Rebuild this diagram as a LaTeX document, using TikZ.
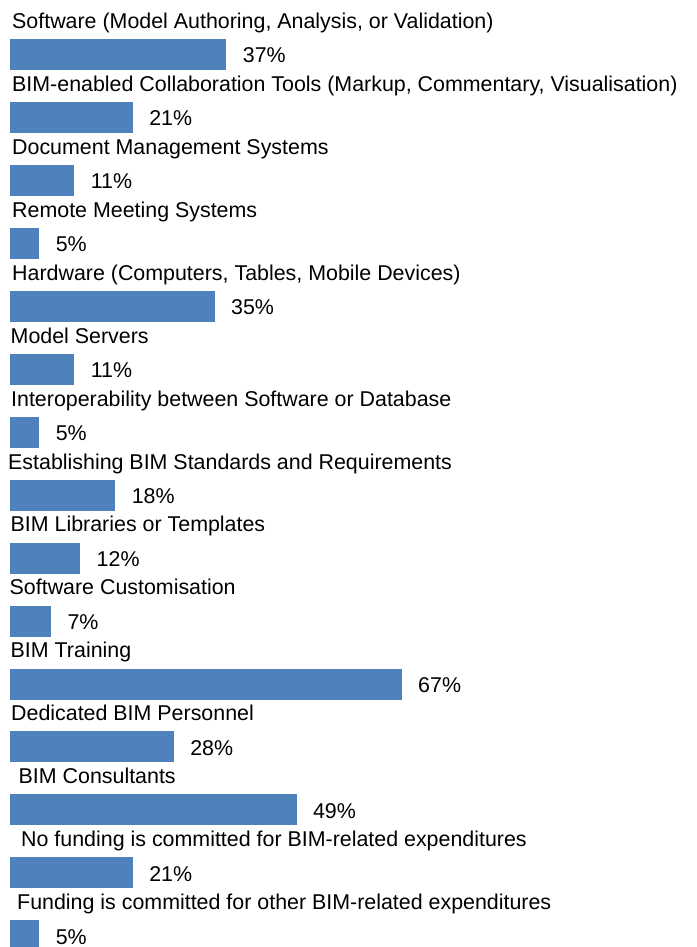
\documentclass[tikz,border=0pt]{standalone}
\usepackage{fontspec}
\setmainfont{Liberation Sans}
\usetikzlibrary{positioning}

\definecolor{barblue}{HTML}{4F81BD}

\newcommand\MYleft{10}
\newcommand\MYtop{39}
\newcommand\MYstep{62.93}
\newcommand\MYunit{5.845}

\begin{document}
\begin{tikzpicture}[x=1pt,y=-1pt,
  bar/.style={fill=barblue,inner sep=0pt,minimum height=31pt,anchor=north west},
  cat/.style={inner sep=0pt,anchor=base west,font=\fontsize{21.4}{25}\selectfont},
  pct/.style={inner sep=0pt,anchor=base west,font=\fontsize{21.4}{25}\selectfont}]

\useasboundingbox (0,0) rectangle (696,947);
\clip (0,0) rectangle (696,947);

\coordinate (R1) at (\MYleft,\MYtop);
\coordinate (R2) at (\MYleft,\MYtop+1*\MYstep);
\coordinate (R3) at (\MYleft,\MYtop+2*\MYstep);
\coordinate (R4) at (\MYleft,\MYtop+3*\MYstep);
\coordinate (R5) at (\MYleft,\MYtop+4*\MYstep);
\coordinate (R6) at (\MYleft,\MYtop+5*\MYstep);
\coordinate (R7) at (\MYleft,\MYtop+6*\MYstep);
\coordinate (R8) at (\MYleft,\MYtop+7*\MYstep);
\coordinate (R9) at (\MYleft,\MYtop+8*\MYstep);
\coordinate (R10) at (\MYleft,\MYtop+9*\MYstep);
\coordinate (R11) at (\MYleft,\MYtop+10*\MYstep);
\coordinate (R12) at (\MYleft,\MYtop+11*\MYstep);
\coordinate (R13) at (\MYleft,\MYtop+12*\MYstep);
\coordinate (R14) at (\MYleft,\MYtop+13*\MYstep);
\coordinate (R15) at (\MYleft,\MYtop+14*\MYstep);

% bars
\node[bar,minimum width={37*\MYunit pt}] (bar1) at (R1) {};
\node[bar,minimum width={21*\MYunit pt}] (bar2) at (R2) {};
\node[bar,minimum width={11*\MYunit pt}] (bar3) at (R3) {};
\node[bar,minimum width={5*\MYunit pt}] (bar4) at (R4) {};
\node[bar,minimum width={35*\MYunit pt}] (bar5) at (R5) {};
\node[bar,minimum width={11*\MYunit pt}] (bar6) at (R6) {};
\node[bar,minimum width={5*\MYunit pt}] (bar7) at (R7) {};
\node[bar,minimum width={18*\MYunit pt}] (bar8) at (R8) {};
\node[bar,minimum width={12*\MYunit pt}] (bar9) at (R9) {};
\node[bar,minimum width={7*\MYunit pt}] (bar10) at (R10) {};
\node[bar,minimum width={67*\MYunit pt}] (bar11) at (R11) {};
\node[bar,minimum width={28*\MYunit pt}] (bar12) at (R12) {};
\node[bar,minimum width={49*\MYunit pt}] (bar13) at (R13) {};
\node[bar,minimum width={21*\MYunit pt}] (bar14) at (R14) {};
\node[bar,minimum width={5*\MYunit pt}] (bar15) at (R15) {};

% percentages
\node[pct] (pct1) at ([xshift=16pt,yshift=-24pt]bar1.north east) {37\%};
\node[pct] (pct2) at ([xshift=16pt,yshift=-24pt]bar2.north east) {21\%};
\node[pct] (pct3) at ([xshift=16pt,yshift=-24pt]bar3.north east) {11\%};
\node[pct] (pct4) at ([xshift=16pt,yshift=-24pt]bar4.north east) {5\%};
\node[pct] (pct5) at ([xshift=16pt,yshift=-24pt]bar5.north east) {35\%};
\node[pct] (pct6) at ([xshift=16pt,yshift=-24pt]bar6.north east) {11\%};
\node[pct] (pct7) at ([xshift=16pt,yshift=-24pt]bar7.north east) {5\%};
\node[pct] (pct8) at ([xshift=16pt,yshift=-24pt]bar8.north east) {18\%};
\node[pct] (pct9) at ([xshift=16pt,yshift=-24pt]bar9.north east) {12\%};
\node[pct] (pct10) at ([xshift=16pt,yshift=-24pt]bar10.north east) {7\%};
\node[pct] (pct11) at ([xshift=16pt,yshift=-24pt]bar11.north east) {67\%};
\node[pct] (pct12) at ([xshift=16pt,yshift=-24pt]bar12.north east) {28\%};
\node[pct] (pct13) at ([xshift=16pt,yshift=-24pt]bar13.north east) {49\%};
\node[pct] (pct14) at ([xshift=16pt,yshift=-24pt]bar14.north east) {21\%};
\node[pct] (pct15) at ([xshift=16pt,yshift=-24pt]bar15.north east) {5\%};

% categories
\node[cat] (cat1) at ([xshift=2pt,yshift=10.5pt]bar1.north west) {Software (Model Authoring, Analysis, or Validation)};
\node[cat] (cat2) at ([xshift=2pt,yshift=10.5pt]bar2.north west) {BIM-enabled Collaboration Tools (Markup, Commentary, Visualisation)};
\node[cat] (cat3) at ([xshift=2pt,yshift=10.5pt]bar3.north west) {Document Management Systems};
\node[cat] (cat4) at ([xshift=2pt,yshift=10.5pt]bar4.north west) {Remote Meeting Systems};
\node[cat] (cat5) at ([xshift=2pt,yshift=10.5pt]bar5.north west) {Hardware (Computers, Tables, Mobile Devices)};
\node[cat] (cat6) at ([xshift=0.5pt,yshift=10.5pt]bar6.north west) {Model Servers};
\node[cat] (cat7) at ([xshift=1pt,yshift=10.5pt]bar7.north west) {Interoperability between Software or Database};
\node[cat] (cat8) at ([xshift=-2pt,yshift=10.5pt]bar8.north west) {Establishing BIM Standards and Requirements};
\node[cat] (cat9) at ([xshift=0.5pt,yshift=10.5pt]bar9.north west) {BIM Libraries or Templates};
\node[cat] (cat10) at ([xshift=-0.5pt,yshift=10.5pt]bar10.north west) {Software Customisation};
\node[cat] (cat11) at ([xshift=0.5pt,yshift=10.5pt]bar11.north west) {BIM Training};
\node[cat] (cat12) at ([xshift=1pt,yshift=10.5pt]bar12.north west) {Dedicated BIM Personnel};
\node[cat] (cat13) at ([xshift=8.5pt,yshift=10.5pt]bar13.north west) {BIM Consultants};
\node[cat] (cat14) at ([xshift=11pt,yshift=10.5pt]bar14.north west) {No funding is committed for BIM-related expenditures};
\node[cat] (cat15) at ([xshift=7pt,yshift=10.5pt]bar15.north west) {Funding is committed for other BIM-related expenditures};

\end{tikzpicture}
\end{document}
